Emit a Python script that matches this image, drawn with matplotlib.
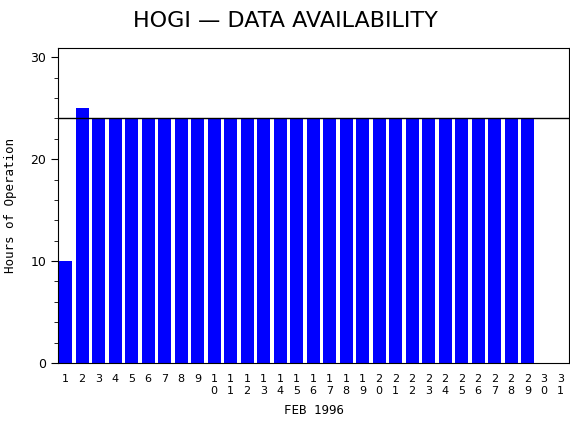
import matplotlib
matplotlib.use('Agg')
import matplotlib.pyplot as plt
import numpy as np

days = list(range(1, 32))
hours = [10, 25] + [24] * 27 + [0, 0]
ref_line = 24
day_labels = ["\n".join(str(d)) for d in days]

fig = plt.figure(figsize=(5.7, 4.3), dpi=100)
ax = fig.add_axes([0.102, 0.156, 0.896, 0.732])
ax.bar(days, hours, width=0.78, color='#0000ff')
ax.axhline(ref_line, color='black', lw=1)
ax.set_xlim(0.55, 31.5)
ax.set_ylim(0, 30.9)
ax.set_yticks([0, 10, 20, 30])
ax.set_yticks(np.arange(0, 31, 2), minor=True)
ax.set_xticks(days)
ax.set_xticklabels(day_labels, fontsize=8, va='top', linespacing=1.2)
ax.tick_params(axis='x', length=0, pad=8)
ax.tick_params(axis='y', labelsize=9, length=5)
ax.tick_params(axis='y', which='minor', length=3)
ax.set_ylabel("Hours of Operation", fontsize=9, labelpad=10, family='DejaVu Sans Mono')
ax.set_xlabel("FEB 1996", fontsize=9, labelpad=6, family='DejaVu Sans Mono')
fig.suptitle("HOGI \u2014 DATA AVAILABILITY", fontsize=16, y=0.975, x=0.5)
fig.savefig("out.png", dpi=100)
